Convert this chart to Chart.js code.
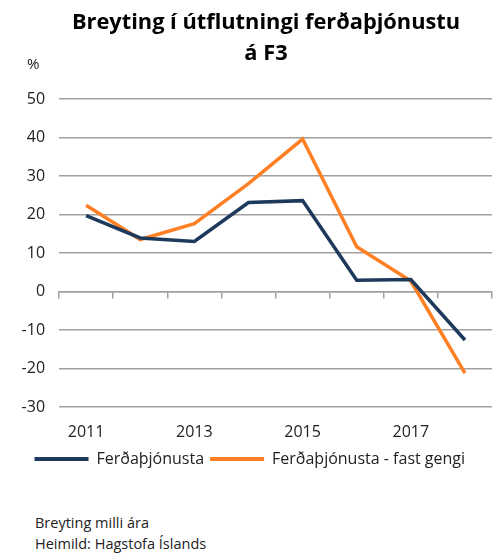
<!DOCTYPE html>
<html>
<head>
<meta charset="utf-8">
<script src="https://cdn.jsdelivr.net/npm/chart.js@4"></script>
<style>
    body { margin: 0; background: #fff; font-family: 'Open Sans', sans-serif; }
    .wrap { position: relative; width: 495px; height: 555px; }
    .chartBox { position: absolute; left: 0; top: 0; width: 495px; height: 480px; }
    .title { position: absolute; left: 0; top: 5px; width: 532px; white-space: nowrap;
             text-align: center; font-size: 21.8px; font-weight: bold; line-height: 31px; color: #000; }
    .unit { position: absolute; left: 27px; top: 53px; font-size: 15px; color: #222; }
    .note { position: absolute; left: 35px; font-size: 14.5px; color: #222; }
</style>
</head>
<body>
<div class="wrap">
    <div class="chartBox"><canvas id="myChart"></canvas></div>
    <div class="title">Breyting í útflutningi ferðaþjónustu<br>á F3</div>
    <div class="unit">%</div>
    <div class="note" style="top: 513px;">Breyting milli ára</div>
    <div class="note" style="top: 534px;">Heimild: Hagstofa Íslands</div>
</div>
<script>
var years = ['2011', '2012', '2013', '2014', '2015', '2016', '2017', '2018'];
var ferdathjonusta = [19.7, 13.9, 13.0, 23.1, 23.6, 2.9, 3.1, -12.6];
var fastGengi = [22.4, 13.5, 17.6, 28.0, 39.6, 11.6, 2.7, -21.2];
var yTicks = [-30, -20, -10, 0, 10, 20, 30, 40, 50];

var navy = '#1d3a5c';
var orange = '#ff7f24';
var gridColor = '#a0a0a0';

var ctx = document.getElementById('myChart').getContext('2d');
var myChart = new Chart(ctx, {
    type: 'line',
    data: {
        labels: years,
        datasets: [{
            label: 'Ferðaþjónusta',
            data: ferdathjonusta,
            borderColor: navy,
            backgroundColor: navy,
            borderWidth: 3.5,
            pointRadius: 0,
            tension: 0
        }, {
            label: 'Ferðaþjónusta - fast gengi',
            data: fastGengi,
            borderColor: orange,
            backgroundColor: orange,
            borderWidth: 3.5,
            pointRadius: 0,
            tension: 0
        }]
    },
    options: {
        responsive: true,
        maintainAspectRatio: false,
        animation: false,
        layout: { padding: { left: 7.6, right: 3, top: 99, bottom: 3 } },
        plugins: {
            legend: {
                position: 'bottom',
                labels: {
                    color: '#222',
                    font: { family: 'Open Sans', size: 16 },
                    boxWidth: 54,
                    boxHeight: 4,
                    padding: 6,
                    generateLabels: function (chart) {
                        var items = Chart.defaults.plugins.legend.labels.generateLabels(chart);
                        items.forEach(function (it) { it.lineWidth = 0; });
                        return items;
                    }
                }
            },
            tooltip: { enabled: false }
        },
        scales: {
            x: {
                offset: true,
                afterFit: function (scale) { scale.height = 38; },
                grid: { display: false, drawTicks: false },
                border: { display: false },
                ticks: {
                    autoSkip: false,
                    maxRotation: 0,
                    color: '#222',
                    font: { family: 'Open Sans', size: 16 },
                    padding: 16,
                    callback: function (v, i) { return i % 2 === 0 ? this.getLabelForValue(v) : ''; }
                }
            },
            x2: {
                type: 'category',
                axis: 'x',
                labels: years,
                position: { y: 0 },
                offset: true,
                afterFit: function (scale) { scale.height = 0; },
                grid: { offset: true, drawOnChartArea: false, tickLength: 6, color: gridColor, lineWidth: 1.5 },
                border: { display: true, color: gridColor, width: 1.5 },
                ticks: { display: false }
            },
            y: {
                min: -30,
                max: 50,
                afterBuildTicks: function (scale) { scale.ticks = yTicks.map(function (v) { return { value: v }; }); },
                grid: { color: gridColor, lineWidth: 1.5, drawTicks: false },
                border: { display: false },
                ticks: {
                    color: '#222',
                    font: { family: 'Open Sans', size: 16 },
                    padding: 14
                }
            }
        }
    }
});
</script>
</body>
</html>
